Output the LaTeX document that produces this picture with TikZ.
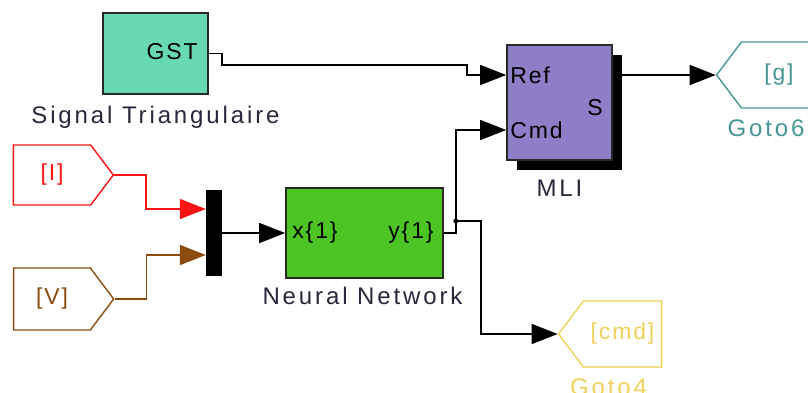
\documentclass[tikz,border=0pt]{standalone}
\usepackage{fontspec}
\setmainfont{Liberation Sans}[LetterSpace=8]
\usetikzlibrary{arrows.meta, positioning, shapes.symbols, shadows}
\definecolor{gstgreen}{RGB}{104,216,180}
\definecolor{mliviolet}{RGB}{142,126,199}
\definecolor{nngreen}{RGB}{76,196,36}
\definecolor{tagred}{RGB}{250,20,20}
\definecolor{tagbrown}{RGB}{140,76,16}
\definecolor{tagteal}{RGB}{70,150,150}
\definecolor{tagyellow}{RGB}{238,210,90}
\definecolor{blkdark}{RGB}{40,40,40}
\definecolor{lbldark}{RGB}{40,40,60}

\begin{document}
\begin{tikzpicture}[x=1pt, y=-1pt,
        block/.style={rectangle, draw=blkdark, line width=1.6pt, inner sep=0pt},
        port/.style={inner sep=4pt, font=\fontsize{23}{27}\selectfont, text=black},
        lbl/.style={inner sep=0pt, font=\fontsize{24}{28}\selectfont\addfontfeature{LetterSpace=12}, text=lbldark},
        fromtag/.style={signal, signal to=east, signal pointer angle=106, draw, line width=1.4pt, minimum width=100pt, minimum height=60pt, font=\fontsize{23}{27}\selectfont},
        gototag/.style={signal, signal to=west, signal pointer angle=106, draw, line width=1.4pt, minimum width=100pt, minimum height=66pt, font=\fontsize{23}{27}\selectfont},
        arr/.style={-{Triangle[length=26pt, width=20pt]}, line width=1.6pt}
    ]
        \clip (0,0) rectangle (808,392);
        \fill[white] (0,0) rectangle (808,392);

        % Blocs
        \node[block, fill=gstgreen, minimum width=105pt, minimum height=81pt] (gst) at (155.5,53.5) {};
        \node[port, anchor=east, xshift=-7pt] (gstout) at ([yshift=1.5pt]gst.east) {GST};
        \node[lbl, below=11pt of gst] (gstlabel) {Signal Triangulaire};

        \node[block, fill=mliviolet, minimum width=105pt, minimum height=115pt,
              drop shadow={shadow xshift=10pt, shadow yshift=-10pt, fill=black, opacity=1}] (mli) at (559.5,102.5) {};
        \node[port, anchor=west] (ref) at ([yshift=27.5pt]mli.west) {Ref};
        \node[port, anchor=west] (cmd) at ([yshift=-27.5pt]mli.west) {Cmd};
        \node[port, anchor=east, xshift=-6pt] (sout) at ([yshift=-5.5pt]mli.east) {S};
        \node[lbl, below=19pt of mli] (mlilabel) {MLI};

        \node[block, fill=nngreen, minimum width=157pt, minimum height=90pt] (nn) at (364.5,233) {};
        \node[port, anchor=west, xshift=3pt] (xin) at (nn.west) {x\{1\}};
        \node[port, anchor=east, xshift=-6pt] (yout) at (nn.east) {y\{1\}};
        \node[lbl, below=8pt of nn, xshift=-2pt] (nnlabel) {Neural Network};

        \node[rectangle, fill=black, minimum width=16pt, minimum height=86pt, inner sep=0pt] (mux) at (214,233) {};

        % Etiquettes From / Goto
        \node[fromtag, draw=tagred, text=tagred] (tagI) at (52,175) {[I]};
        \node[fromtag, draw=tagbrown, text=tagbrown, minimum height=62pt] (tagV) at (52,299) {[V]};
        \node[gototag, draw=tagteal, text=tagteal] (goto6) at (779,75) {[g]};
        \node[lbl, text=tagteal, below=11pt of goto6, xshift=-13pt] (goto6label) {Goto6};
        \node[gototag, draw=tagyellow, text=tagyellow, minimum width=103pt] (goto4) at (622.5,334) {[cmd]};
        \node[lbl, text=tagyellow, below=11pt of goto4, xshift=-14pt] (goto4label) {Goto4};

        % Liens
        \draw[arr] (gst.east) -- ++(13,0) |- ++(245,11.5) |- (ref.west);
        \draw[arr] (mli.east |- ref.west) -- (goto6.west);
        \draw[arr, tagred] (tagI.east) -- ++(32,0) |- ([yshift=24pt]mux.west);
        \draw[arr, tagbrown] (tagV.east) -- ++(32,0) |- ([yshift=-22pt]mux.west);
        \draw[arr] (mux.east) -- (nn.west);
        \draw[line width=1.6pt] (nn.east) -- ++(12,0) -- ++(0,-12) coordinate (split);
        \draw[arr] (split) |- (cmd.west);
        \draw[arr] (split) -- ++(25,0) |- (goto4.west);
        \fill (split) circle (2.5pt);
    \end{tikzpicture}
\end{document}
